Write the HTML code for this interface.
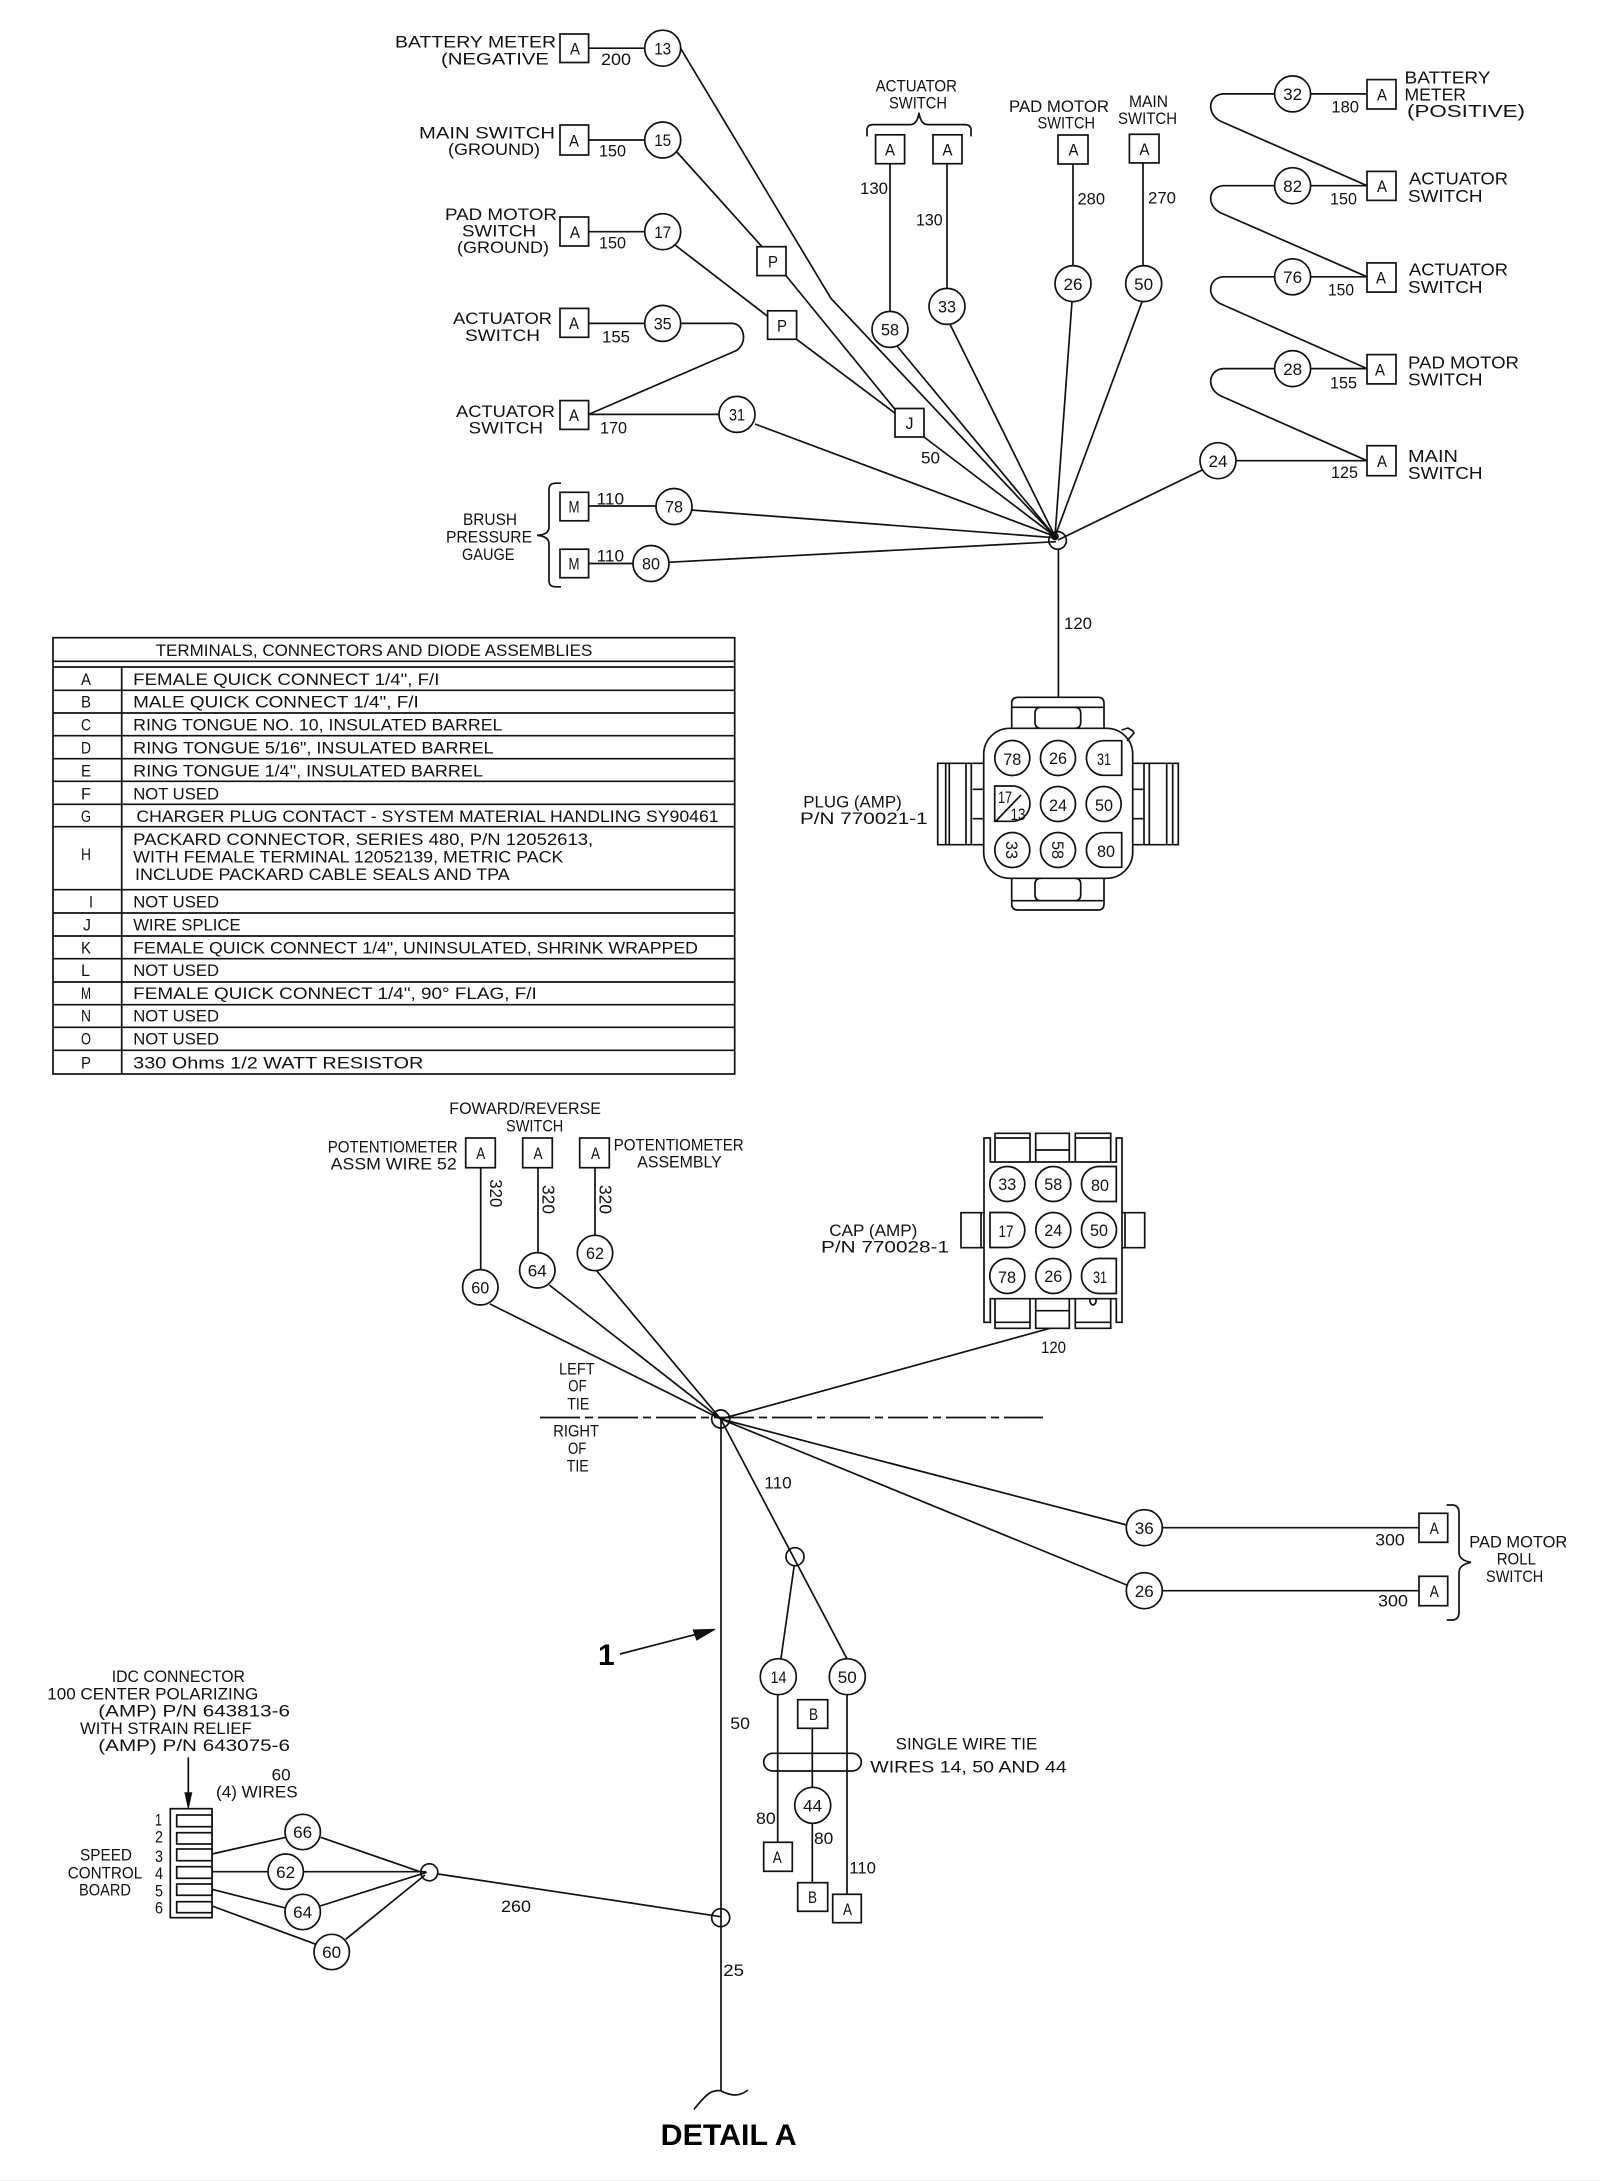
<!DOCTYPE html>
<html><head><meta charset="utf-8"><style>
html,body{margin:0;padding:0;background:#fff}
svg{display:block}
text{font-family:"Liberation Sans",sans-serif;font-size:16.5px;fill:#111}
.l,.w,.c,.cap{fill:none;stroke:#111;stroke-width:1.7}
.c{fill:#fff}
.r{font-size:17.4px}
.t{font-size:17px}
.m{font-size:16.5px}
.g{font-size:16.5px}
.v{font-size:17.5px}
.b{font-weight:bold;font-size:30px;fill:#000}
.n{font-size:17.5px;text-anchor:middle}
.n2{font-size:17px;text-anchor:middle}
</style></head><body>
<svg width="1600" height="2181" viewBox="0 0 1600 2181" xmlns="http://www.w3.org/2000/svg">
<rect width="1600" height="2181" fill="#fff"/>
<rect y="2180" width="1600" height="1" fill="#eee"/>

<!-- TOP WIRES -->
<g class="l">
<path d="M588.6 48.2H645M680.5 48.2L831 298.5L1055 536.4"/>
<path d="M588.6 140H645M676 151L762 246.7M786 275.6L895 409.3M924 437L1055 536.4"/>
<path d="M588.6 231.7H645M675 245L767.6 316.3M796.6 339.3L895 413.2"/>
<path d="M588.6 323.4H645M680.5 323.4H733C746 325 748 347 733 352L588.6 414.4"/>
<path d="M588.6 414.4H719M755 424L1055 536.4"/>
<path d="M589 506H656M691 510L1056 537.8"/>
<path d="M589 563.5H633M668 562.3L1056 541.7"/>
<path d="M890 163.7V311.4M897 346L1055 536.4"/>
<path d="M947 163.7V288.4M950 324.2L1055 536.4"/>
<path d="M1073 164V265.6M1072 301.4L1055 536.4"/>
<path d="M1143 163V265.6M1142.4 300.7L1055 536.4"/>
<path d="M1203 469.6L1058 540"/>
<path d="M1310 93.9H1367M1275 93.9H1223C1208 95 1206 114 1221 121.4L1367 185.7"/>
<path d="M1310 185.7H1367M1275 185.7H1223C1208 187 1206 206 1221 213L1367 276.8"/>
<path d="M1310 276.8H1367M1275 276.8H1223C1208 278 1206 297 1221 304L1367 368.6"/>
<path d="M1310 368.6H1367M1275 368.6H1223C1208 370 1206 389 1221 396L1367 460.7"/>
<path d="M1235.5 460.7H1367"/>
<path d="M1058.4 549V697.3"/>
<circle cx="1057.6" cy="540.4" r="8.8"/>
<circle cx="1055" cy="536.4" r="3" fill="#111"/>
<!-- braces -->
<path d="M561 483.2H556C551 483.2 549 485 549 490V527C549 532 545 535 537 535.4C545 536 549 539 549 544V580C549 585 551 586.8 556 586.8H561"/>
<path d="M867 136.4V130C867 126.5 869 124.6 873 124.6H910C915 124.6 918 120 919 112.7C920 120 923 124.6 928 124.6H965C969 124.6 971 126.5 971 130V136.4"/>
</g>

<!-- TOP BOXES -->
<g class="c">
<rect x="560" y="34" width="28.6" height="28.5"/>
<rect x="560" y="125" width="28.6" height="30"/>
<rect x="560" y="217" width="28.6" height="29"/>
<rect x="560" y="308.4" width="28.6" height="28.9"/>
<rect x="560" y="400.6" width="28.6" height="28.8"/>
<rect x="560" y="492.3" width="28.6" height="28.5"/>
<rect x="560" y="549.2" width="28.6" height="28.5"/>
<rect x="757" y="246.7" width="29" height="28.9"/>
<rect x="767.6" y="310.8" width="29" height="28.5"/>
<rect x="895" y="408.5" width="29" height="28.5"/>
<rect x="875.6" y="134.8" width="29" height="28.9"/>
<rect x="933" y="134.8" width="29" height="28.9"/>
<rect x="1058" y="135" width="30" height="29"/>
<rect x="1129.4" y="134.3" width="29.6" height="28.6"/>
<rect x="1367" y="79.6" width="29" height="29.4"/>
<rect x="1367" y="171.4" width="29" height="29"/>
<rect x="1367" y="262.9" width="29" height="29.2"/>
<rect x="1367" y="354.6" width="29" height="29.3"/>
<rect x="1367" y="445.7" width="29" height="30"/>
<circle cx="662.7" cy="48.2" r="18"/>
<circle cx="662.7" cy="140" r="18"/>
<circle cx="662.7" cy="231.7" r="18"/>
<circle cx="662.7" cy="323.4" r="18"/>
<circle cx="737" cy="414.4" r="18"/>
<circle cx="674" cy="506.5" r="18"/>
<circle cx="651" cy="563.5" r="18"/>
<circle cx="890" cy="329.4" r="18"/>
<circle cx="947" cy="306.4" r="18"/>
<circle cx="1073" cy="283.6" r="18"/>
<circle cx="1143.7" cy="283.6" r="18"/>
<circle cx="1292.6" cy="93.9" r="18"/>
<circle cx="1292.6" cy="185.7" r="18"/>
<circle cx="1292.6" cy="276.8" r="18"/>
<circle cx="1292.6" cy="368.6" r="18"/>
<circle cx="1218" cy="460.7" r="18"/>
</g>

<!-- TOP TEXT -->
<g>
<g class="n">
<text x="662.7" y="54.5" textLength="17" lengthAdjust="spacingAndGlyphs">13</text>
<text x="662.7" y="146" textLength="17" lengthAdjust="spacingAndGlyphs">15</text>
<text x="662.7" y="238" textLength="17" lengthAdjust="spacingAndGlyphs">17</text>
<text x="662.7" y="329.5" textLength="18" lengthAdjust="spacingAndGlyphs">35</text>
<text x="737" y="420.5" textLength="16" lengthAdjust="spacingAndGlyphs">31</text>
<text x="674" y="512.5" textLength="18" lengthAdjust="spacingAndGlyphs">78</text>
<text x="651" y="569.5" textLength="18" lengthAdjust="spacingAndGlyphs">80</text>
<text x="890" y="335.5" textLength="18" lengthAdjust="spacingAndGlyphs">58</text>
<text x="947" y="312.5" textLength="18" lengthAdjust="spacingAndGlyphs">33</text>
<text x="1073" y="289.8" textLength="19" lengthAdjust="spacingAndGlyphs">26</text>
<text x="1143.7" y="289.8" textLength="19" lengthAdjust="spacingAndGlyphs">50</text>
<text x="1292.6" y="100" textLength="19" lengthAdjust="spacingAndGlyphs">32</text>
<text x="1292.6" y="192" textLength="19" lengthAdjust="spacingAndGlyphs">82</text>
<text x="1292.6" y="283" textLength="19" lengthAdjust="spacingAndGlyphs">76</text>
<text x="1292.6" y="375" textLength="19" lengthAdjust="spacingAndGlyphs">28</text>
<text x="1218" y="467" textLength="19" lengthAdjust="spacingAndGlyphs">24</text>
<text x="575" y="54.4" textLength="10" lengthAdjust="spacingAndGlyphs">A</text>
<text x="574" y="146.5" textLength="10" lengthAdjust="spacingAndGlyphs">A</text>
<text x="575" y="238" textLength="10" lengthAdjust="spacingAndGlyphs">A</text>
<text x="574" y="329" textLength="10" lengthAdjust="spacingAndGlyphs">A</text>
<text x="574" y="421" textLength="10" lengthAdjust="spacingAndGlyphs">A</text>
<text x="574" y="512.5" textLength="11" lengthAdjust="spacingAndGlyphs">M</text>
<text x="574" y="569.5" textLength="11" lengthAdjust="spacingAndGlyphs">M</text>
<text x="773" y="267.7" textLength="10" lengthAdjust="spacingAndGlyphs">P</text>
<text x="782" y="331.4" textLength="10" lengthAdjust="spacingAndGlyphs">P</text>
<text x="909.5" y="429" textLength="8" lengthAdjust="spacingAndGlyphs">J</text>
<text x="890" y="155.5" textLength="10" lengthAdjust="spacingAndGlyphs">A</text>
<text x="947.5" y="155.5" textLength="10" lengthAdjust="spacingAndGlyphs">A</text>
<text x="1073.5" y="155.5" textLength="10" lengthAdjust="spacingAndGlyphs">A</text>
<text x="1144.5" y="154.8" textLength="10" lengthAdjust="spacingAndGlyphs">A</text>
<text x="1382" y="100.5" textLength="10" lengthAdjust="spacingAndGlyphs">A</text>
<text x="1382" y="192" textLength="10" lengthAdjust="spacingAndGlyphs">A</text>
<text x="1381" y="283.7" textLength="10" lengthAdjust="spacingAndGlyphs">A</text>
<text x="1380" y="375.5" textLength="10" lengthAdjust="spacingAndGlyphs">A</text>
<text x="1382" y="467" textLength="10" lengthAdjust="spacingAndGlyphs">A</text>
</g>
<text x="395" y="47.4" textLength="161" lengthAdjust="spacingAndGlyphs">BATTERY  METER</text>
<text x="441" y="64.5" textLength="108" lengthAdjust="spacingAndGlyphs">(NEGATIVE</text>
<text x="601" y="64.8" textLength="30" lengthAdjust="spacingAndGlyphs">200</text>
<text x="419" y="138.4" textLength="136" lengthAdjust="spacingAndGlyphs">MAIN  SWITCH</text>
<text x="448" y="155" textLength="92" lengthAdjust="spacingAndGlyphs">(GROUND)</text>
<text x="599" y="156.6" textLength="27" lengthAdjust="spacingAndGlyphs">150</text>
<text x="445" y="219.8" textLength="112" lengthAdjust="spacingAndGlyphs">PAD  MOTOR</text>
<text x="462" y="236.5" textLength="74" lengthAdjust="spacingAndGlyphs">SWITCH</text>
<text x="457" y="253" textLength="92" lengthAdjust="spacingAndGlyphs">(GROUND)</text>
<text x="599" y="248.3" textLength="27" lengthAdjust="spacingAndGlyphs">150</text>
<text x="453" y="324.2" textLength="99" lengthAdjust="spacingAndGlyphs">ACTUATOR</text>
<text x="465" y="340.8" textLength="75" lengthAdjust="spacingAndGlyphs">SWITCH</text>
<text x="602" y="342.4" textLength="28" lengthAdjust="spacingAndGlyphs">155</text>
<text x="456" y="416.8" textLength="99" lengthAdjust="spacingAndGlyphs">ACTUATOR</text>
<text x="468.5" y="433.4" textLength="74.5" lengthAdjust="spacingAndGlyphs">SWITCH</text>
<text x="600" y="433.4" textLength="27" lengthAdjust="spacingAndGlyphs">170</text>
<text x="596.6" y="504.5" textLength="27.5" lengthAdjust="spacingAndGlyphs">110</text>
<text x="596.6" y="561.5" textLength="27.5" lengthAdjust="spacingAndGlyphs">110</text>
<text x="463" y="525" textLength="54" lengthAdjust="spacingAndGlyphs">BRUSH</text>
<text x="446" y="542.5" textLength="86" lengthAdjust="spacingAndGlyphs">PRESSURE</text>
<text x="462" y="560" textLength="52.5" lengthAdjust="spacingAndGlyphs">GAUGE</text>
<text x="921" y="463.4" textLength="19" lengthAdjust="spacingAndGlyphs">50</text>
<text x="875.6" y="91.7" textLength="81.4" lengthAdjust="spacingAndGlyphs" class="g">ACTUATOR</text>
<text x="889" y="108.7" textLength="58" lengthAdjust="spacingAndGlyphs" class="g">SWITCH</text>
<text x="860" y="193.8" textLength="28" lengthAdjust="spacingAndGlyphs">130</text>
<text x="916" y="225.4" textLength="26.6" lengthAdjust="spacingAndGlyphs">130</text>
<text x="1009" y="112" textLength="100" lengthAdjust="spacingAndGlyphs" class="g">PAD  MOTOR</text>
<text x="1037.5" y="128.6" textLength="57.5" lengthAdjust="spacingAndGlyphs" class="g">SWITCH</text>
<text x="1129" y="107" textLength="39" lengthAdjust="spacingAndGlyphs" class="g">MAIN</text>
<text x="1118" y="124" textLength="59" lengthAdjust="spacingAndGlyphs" class="g">SWITCH</text>
<text x="1077.5" y="204.3" textLength="27.5" lengthAdjust="spacingAndGlyphs">280</text>
<text x="1148" y="203.6" textLength="28" lengthAdjust="spacingAndGlyphs">270</text>
<text x="1331.4" y="112.5" textLength="27.6" lengthAdjust="spacingAndGlyphs">180</text>
<text x="1330" y="204.3" textLength="27" lengthAdjust="spacingAndGlyphs">150</text>
<text x="1328" y="295.7" textLength="26" lengthAdjust="spacingAndGlyphs">150</text>
<text x="1330" y="388.6" textLength="27" lengthAdjust="spacingAndGlyphs">155</text>
<text x="1331" y="478.2" textLength="27" lengthAdjust="spacingAndGlyphs">125</text>
<text class="r" x="1404.5" y="83.6" textLength="86" lengthAdjust="spacingAndGlyphs">BATTERY</text>
<text class="r" x="1404.5" y="100.7" textLength="61.5" lengthAdjust="spacingAndGlyphs">METER</text>
<text class="r" x="1407" y="117" textLength="118" lengthAdjust="spacingAndGlyphs">(POSITIVE)</text>
<text class="r" x="1409" y="184.6" textLength="99" lengthAdjust="spacingAndGlyphs">ACTUATOR</text>
<text class="r" x="1408" y="201.8" textLength="74.5" lengthAdjust="spacingAndGlyphs">SWITCH</text>
<text class="r" x="1409" y="275.7" textLength="99" lengthAdjust="spacingAndGlyphs">ACTUATOR</text>
<text class="r" x="1408" y="292.9" textLength="74.5" lengthAdjust="spacingAndGlyphs">SWITCH</text>
<text class="r" x="1408" y="368.6" textLength="111" lengthAdjust="spacingAndGlyphs">PAD  MOTOR</text>
<text class="r" x="1408" y="385.4" textLength="74.5" lengthAdjust="spacingAndGlyphs">SWITCH</text>
<text class="r" x="1408" y="462.1" textLength="50" lengthAdjust="spacingAndGlyphs">MAIN</text>
<text class="r" x="1408" y="478.9" textLength="74.5" lengthAdjust="spacingAndGlyphs">SWITCH</text>
<text class="m" x="1064" y="629" textLength="28" lengthAdjust="spacingAndGlyphs">120</text>
</g>

<!-- TABLE -->
<g class="l">
<rect x="53" y="637.7" width="681.7" height="436.3"/>
<path d="M53 661.3H734.7M53 667H734.7M53 690.3H734.7M53 713H734.7M53 735.7H734.7M53 758.7H734.7M53 781.3H734.7M53 804.3H734.7M53 826.7H734.7M53 889.7H734.7M53 913H734.7M53 936H734.7M53 958.7H734.7M53 982H734.7M53 1004.7H734.7M53 1027.3H734.7M53 1050.3H734.7M121.7 667V1074"/>
</g>
<g>
<text class="t" x="155.7" y="656" textLength="436.6" lengthAdjust="spacingAndGlyphs">TERMINALS, CONNECTORS AND DIODE ASSEMBLIES</text>
<text class="t" x="81" y="685" textLength="10" lengthAdjust="spacingAndGlyphs">A</text>
<text class="t" x="81" y="707.7" textLength="10" lengthAdjust="spacingAndGlyphs">B</text>
<text class="t" x="81" y="730.7" textLength="10" lengthAdjust="spacingAndGlyphs">C</text>
<text class="t" x="81" y="753.3" textLength="10" lengthAdjust="spacingAndGlyphs">D</text>
<text class="t" x="81" y="776.3" textLength="10" lengthAdjust="spacingAndGlyphs">E</text>
<text class="t" x="81" y="799.3" textLength="10" lengthAdjust="spacingAndGlyphs">F</text>
<text class="t" x="81" y="822" textLength="10" lengthAdjust="spacingAndGlyphs">G</text>
<text class="t" x="81" y="860" textLength="10" lengthAdjust="spacingAndGlyphs">H</text>
<text class="t" x="89" y="907.7" textLength="4" lengthAdjust="spacingAndGlyphs">I</text>
<text class="t" x="83" y="930.3" textLength="8" lengthAdjust="spacingAndGlyphs">J</text>
<text class="t" x="81" y="953.3" textLength="10" lengthAdjust="spacingAndGlyphs">K</text>
<text class="t" x="81" y="976" textLength="9" lengthAdjust="spacingAndGlyphs">L</text>
<text class="t" x="81" y="999" textLength="10" lengthAdjust="spacingAndGlyphs">M</text>
<text class="t" x="81" y="1021.7" textLength="10" lengthAdjust="spacingAndGlyphs">N</text>
<text class="t" x="81" y="1044.7" textLength="10" lengthAdjust="spacingAndGlyphs">O</text>
<text class="t" x="81" y="1068.3" textLength="10" lengthAdjust="spacingAndGlyphs">P</text>
<text class="t" x="133.2" y="685" textLength="306.2" lengthAdjust="spacingAndGlyphs">FEMALE QUICK CONNECT 1/4", F/I</text>
<text class="t" x="133.2" y="707.7" textLength="285.6" lengthAdjust="spacingAndGlyphs">MALE QUICK CONNECT 1/4", F/I</text>
<text class="t" x="133.2" y="730.7" textLength="369.2" lengthAdjust="spacingAndGlyphs">RING TONGUE NO. 10, INSULATED BARREL</text>
<text class="t" x="133.2" y="753.3" textLength="360.4" lengthAdjust="spacingAndGlyphs">RING TONGUE 5/16", INSULATED BARREL</text>
<text class="t" x="133.2" y="776.3" textLength="349.8" lengthAdjust="spacingAndGlyphs">RING TONGUE 1/4", INSULATED BARREL</text>
<text class="t" x="133.2" y="799.3" textLength="85.8" lengthAdjust="spacingAndGlyphs">NOT USED</text>
<text class="t" x="136.4" y="822" textLength="582.2" lengthAdjust="spacingAndGlyphs">CHARGER PLUG CONTACT - SYSTEM MATERIAL HANDLING SY90461</text>
<text class="t" x="133.2" y="845" textLength="460" lengthAdjust="spacingAndGlyphs">PACKARD CONNECTOR, SERIES 480, P/N 12052613,</text>
<text class="t" x="133.2" y="862.3" textLength="430.2" lengthAdjust="spacingAndGlyphs">WITH FEMALE TERMINAL 12052139, METRIC PACK</text>
<text class="t" x="135" y="880" textLength="374.7" lengthAdjust="spacingAndGlyphs">INCLUDE PACKARD CABLE SEALS AND TPA</text>
<text class="t" x="133.2" y="907.7" textLength="85.8" lengthAdjust="spacingAndGlyphs">NOT USED</text>
<text class="t" x="133.2" y="930.3" textLength="107.4" lengthAdjust="spacingAndGlyphs">WIRE SPLICE</text>
<text class="t" x="133.2" y="953.3" textLength="564.8" lengthAdjust="spacingAndGlyphs">FEMALE QUICK CONNECT 1/4", UNINSULATED, SHRINK WRAPPED</text>
<text class="t" x="133.2" y="976" textLength="85.8" lengthAdjust="spacingAndGlyphs">NOT USED</text>
<text class="t" x="133.2" y="999" textLength="403.6" lengthAdjust="spacingAndGlyphs">FEMALE QUICK CONNECT 1/4", 90° FLAG, F/I</text>
<text class="t" x="133.2" y="1021.7" textLength="85.8" lengthAdjust="spacingAndGlyphs">NOT USED</text>
<text class="t" x="133.2" y="1044.7" textLength="85.8" lengthAdjust="spacingAndGlyphs">NOT USED</text>
<text class="t" x="133.2" y="1068.3" textLength="290.2" lengthAdjust="spacingAndGlyphs">330 Ohms  1/2 WATT RESISTOR</text>
</g>

<!-- PLUG -->
<g class="l">
<path d="M1011.7 728V703.3Q1011.7 697.3 1018 697.3H1098Q1104 697.3 1104 703.3V728M1011.7 707.3H1104"/>
<path d="M1041 728.3Q1035 728.3 1035 722V713.3Q1035 707.3 1041 707.3H1074.7Q1080.7 707.3 1080.7 713.3V722Q1080.7 728.3 1074.7 728.3"/>
<path d="M1011.7 878.3V904Q1011.7 910 1018 910H1098Q1104 910 1104 904V878.3M1011.7 900.7H1104"/>
<path d="M1041 878.3Q1035 878.3 1035 884V894.7Q1035 900.7 1041 900.7H1074.7Q1080.7 900.7 1080.7 894.7V884Q1080.7 878.3 1074.7 878.3"/>
<rect x="983.7" y="728.3" width="149" height="150" rx="26" fill="#fff"/>
<path d="M983.7 763.3H937.7V844.7H983.7M945.7 763.3V844.7M949.3 763.3V844.7M966 763.3V844.7M971.3 763.3V844.7M972.7 789.3H983.7M972.7 818.7H983.7"/>
<path d="M1132.7 763.3H1178.3V844.7H1132.7M1172.7 763.3V844.7M1166.7 763.3V844.7M1149.3 763.3V844.7M1144 763.3V844.7M1132.7 789.3H1144M1132.7 818.7H1144"/>
<path d="M1121.7 730L1128 728L1133 731L1134 733L1127 741"/>
<circle cx="1012.3" cy="758" r="17.5"/><circle cx="1058" cy="758" r="17.5"/>
<path d="M1121.7 740.7H1103.7A17.3 17.3 0 0 0 1103.7 775.3H1121.7Z"/>
<path d="M994.7 786H1012.3A17.6 17.6 0 0 1 1012.3 821.3H994.7Z"/>
<path d="M996 821L1021 795"/>
<circle cx="1058" cy="804" r="17.5"/><circle cx="1103.7" cy="804" r="17.5"/>
<circle cx="1012.3" cy="850" r="17.5"/><circle cx="1058" cy="850" r="17.5"/>
<path d="M1121.7 832.7H1103.7A17.3 17.3 0 0 0 1103.7 867.3H1121.7Z"/>
</g>
<g class="n2">
<text x="1012.3" y="765" textLength="18" lengthAdjust="spacingAndGlyphs">78</text>
<text x="1058" y="764" textLength="18" lengthAdjust="spacingAndGlyphs">26</text>
<text x="1104" y="765" textLength="14" lengthAdjust="spacingAndGlyphs">31</text>
<text x="1005" y="803" textLength="14" lengthAdjust="spacingAndGlyphs">17</text>
<text x="1018" y="820" textLength="15" lengthAdjust="spacingAndGlyphs">13</text>
<text x="1058" y="811" textLength="18" lengthAdjust="spacingAndGlyphs">24</text>
<text x="1104" y="811" textLength="18" lengthAdjust="spacingAndGlyphs">50</text>
<text transform="translate(1006 850) rotate(90)" textLength="18" lengthAdjust="spacingAndGlyphs">33</text>
<text transform="translate(1052 850) rotate(90)" textLength="18" lengthAdjust="spacingAndGlyphs">58</text>
<text x="1106" y="857" textLength="18" lengthAdjust="spacingAndGlyphs">80</text>
</g>
<text class="g" x="803.3" y="807.3" textLength="98.4" lengthAdjust="spacingAndGlyphs">PLUG  (AMP)</text>
<text class="g" x="800" y="824" textLength="127.7" lengthAdjust="spacingAndGlyphs">P/N  770021-1</text>

<!-- CAP -->
<g class="l">
<path d="M990.3 1162V1138H984V1322.3H990.3V1298.7H1116.3V1322.3H1122V1138H1116.3V1162Z"/>
<path d="M995 1162V1133.3H1030V1162M995 1138H1030M1035.7 1162V1133.3H1069.3V1162M1035.7 1150H1069.3M1075.3 1162V1133.3H1110.7V1162M1075.3 1138H1110.7"/>
<path d="M995 1298.7V1328.3H1030V1298.7M995 1322.3H1030M1035.7 1298.7V1328.3H1069.3V1298.7M1035.7 1310.7H1069.3M1075.3 1298.7V1328.3H1110.7V1298.7M1075.3 1322.3H1110.7"/>
<path d="M984 1212.7H961V1247.7H984M981 1212.7V1247.7M1122 1212.7H1144.7V1247.7H1122M1125 1212.7V1247.7"/>
<path d="M1090 1298.7V1302Q1093 1308 1096 1302V1298.7"/>
<circle cx="1007.3" cy="1184" r="17.5"/><circle cx="1053.3" cy="1184" r="17.5"/>
<path d="M1116.3 1166.5H1099A17.5 17.5 0 0 0 1099 1201.5H1116.3Z"/>
<path d="M990 1212.5H1007.3A17.5 17.5 0 0 1 1007.3 1247.5H990Z"/>
<circle cx="1053.3" cy="1230" r="17.5"/><circle cx="1099" cy="1230" r="17.5"/>
<circle cx="1007.3" cy="1276" r="17.5"/><circle cx="1053.3" cy="1276" r="17.5"/>
<path d="M1116.3 1258.5H1099A17.5 17.5 0 0 0 1099 1293.5H1116.3Z"/>
</g>
<g class="n2">
<text x="1007.3" y="1190" textLength="18" lengthAdjust="spacingAndGlyphs">33</text>
<text x="1053.3" y="1190" textLength="18" lengthAdjust="spacingAndGlyphs">58</text>
<text x="1100" y="1191" textLength="18" lengthAdjust="spacingAndGlyphs">80</text>
<text x="1006" y="1237" textLength="15" lengthAdjust="spacingAndGlyphs">17</text>
<text x="1053.3" y="1236" textLength="18" lengthAdjust="spacingAndGlyphs">24</text>
<text x="1099" y="1236" textLength="18" lengthAdjust="spacingAndGlyphs">50</text>
<text x="1007" y="1283" textLength="18" lengthAdjust="spacingAndGlyphs">78</text>
<text x="1053.3" y="1282" textLength="18" lengthAdjust="spacingAndGlyphs">26</text>
<text x="1100" y="1283" textLength="14" lengthAdjust="spacingAndGlyphs">31</text>
</g>
<text class="g" x="829.3" y="1236" textLength="88" lengthAdjust="spacingAndGlyphs">CAP  (AMP)</text>
<text class="g" x="821" y="1252.7" textLength="128" lengthAdjust="spacingAndGlyphs">P/N  770028-1</text>
<text class="m" x="1041" y="1353" textLength="25" lengthAdjust="spacingAndGlyphs">120</text>

<!-- LOWER WIRING -->
<g class="l">
<path d="M480.7 1167.7V1270M538 1167.7V1253M595 1167.7V1235"/>
<path d="M490 1304L720.7 1419M549.3 1285L720.7 1419M596 1270L720.7 1419"/>
<path d="M1050 1328.3L720.7 1419"/>
<path d="M540 1417.5H1043" stroke-dasharray="40 5 8 5"/>
<circle cx="720.7" cy="1419" r="9"/>
<path d="M721 1419V2090.7"/>
<path d="M720.7 1419L846.7 1658.3M794.3 1565L781 1658.3"/>
<circle cx="795" cy="1556.7" r="9"/>
<path d="M720.7 1419L1126.7 1525M720.7 1419L1126.7 1585"/>
<path d="M1162.3 1527.7H1419M1162.3 1590.7H1419"/>
<path d="M777.7 1695V1842.3M847 1695V1894.3M812.3 1728.3V1787M812.3 1823.5V1882.7"/>
<rect x="763.7" y="1753.3" width="97.6" height="17.7" rx="9"/>
<path d="M694 2109.3C708 2092 712 2090 720.7 2090.7C733 2097 740 2096 748 2090"/>
<path d="M620 1654L700 1633.3"/>
<path d="M188.3 1757.3V1795"/>
<path d="M1446.7 1505H1452C1457 1505 1459 1508 1459 1513V1552C1459 1558 1463 1561 1471 1562.3C1463 1564 1459 1567 1459 1573V1612C1459 1617 1457 1620 1452 1620H1446.7"/>
<path d="M212 1854L286 1837.3M320.7 1837.3L421.7 1872.3M212 1871.7H268M303.3 1871.7H426M212 1889.3L286.7 1908.3M320 1906L426.7 1872.3M212 1906L316 1944.3M345.7 1939.3L425 1875"/>
<path d="M600 1898.3L720.7 1916.7M438 1874L600 1898.3"/>
<circle cx="429.3" cy="1872.3" r="8.5"/>
<circle cx="720.7" cy="1917.7" r="9"/>
</g>
<path d="M715 1629.3L693.3 1630L696.7 1640Z" fill="#111" stroke="#111" stroke-width="1"/>
<path d="M188.3 1808.3L185 1792.7H191.7Z" fill="#111" stroke="#111" stroke-width="1"/>

<g class="c">
<rect x="465.7" y="1138" width="29.6" height="29.7"/>
<rect x="522.7" y="1138" width="29.6" height="29.7"/>
<rect x="579.7" y="1138" width="29.6" height="29.7"/>
<circle cx="480.3" cy="1287.3" r="17.7"/>
<circle cx="537.3" cy="1270.3" r="17.7"/>
<circle cx="595" cy="1253" r="17.7"/>
<circle cx="778.3" cy="1676.7" r="18"/>
<circle cx="847.3" cy="1676.7" r="18"/>
<circle cx="812.7" cy="1805.3" r="18"/>
<rect x="763.7" y="1842.3" width="28.6" height="29"/>
<rect x="832.7" y="1894.3" width="28.6" height="28.4"/>
<rect x="797.7" y="1699.7" width="30" height="28.6"/>
<rect x="797.7" y="1882.7" width="30" height="28.6"/>
<circle cx="1144.3" cy="1527.7" r="18"/>
<circle cx="1144.3" cy="1590.7" r="18"/>
<rect x="1419" y="1513.3" width="28.7" height="29"/>
<rect x="1419" y="1576.3" width="28.7" height="29.4"/>
<rect x="170.3" y="1808.7" width="41.7" height="109"/>
<rect x="176.7" y="1815" width="35.3" height="11.7"/>
<rect x="176.7" y="1832.7" width="35.3" height="11.3"/>
<rect x="176.7" y="1849" width="35.3" height="11.7"/>
<rect x="176.7" y="1866.7" width="35.3" height="11.6"/>
<rect x="176.7" y="1884" width="35.3" height="11.3"/>
<rect x="176.7" y="1901.7" width="35.3" height="11"/>
<circle cx="302.7" cy="1832" r="17.7"/>
<circle cx="285.7" cy="1871.7" r="17.7"/>
<circle cx="302.7" cy="1912" r="17.7"/>
<circle cx="331.7" cy="1952" r="17.7"/>
</g>

<!-- LOWER TEXT -->
<g class="n2">
<text x="480.3" y="1293.5" textLength="18" lengthAdjust="spacingAndGlyphs">60</text>
<text x="537.3" y="1276.5" textLength="19" lengthAdjust="spacingAndGlyphs">64</text>
<text x="595" y="1259" textLength="18" lengthAdjust="spacingAndGlyphs">62</text>
<text x="778.5" y="1683" textLength="16" lengthAdjust="spacingAndGlyphs">14</text>
<text x="847.3" y="1683" textLength="19" lengthAdjust="spacingAndGlyphs">50</text>
<text x="812.7" y="1811.5" textLength="19" lengthAdjust="spacingAndGlyphs">44</text>
<text x="1144.3" y="1534" textLength="19" lengthAdjust="spacingAndGlyphs">36</text>
<text x="1144.3" y="1597" textLength="19" lengthAdjust="spacingAndGlyphs">26</text>
<text x="302.7" y="1838" textLength="19" lengthAdjust="spacingAndGlyphs">66</text>
<text x="285.7" y="1878" textLength="19" lengthAdjust="spacingAndGlyphs">62</text>
<text x="302.7" y="1918" textLength="19" lengthAdjust="spacingAndGlyphs">64</text>
<text x="331.7" y="1958" textLength="19" lengthAdjust="spacingAndGlyphs">60</text>
<text x="480.7" y="1159" textLength="9" lengthAdjust="spacingAndGlyphs">A</text>
<text x="538" y="1159" textLength="9" lengthAdjust="spacingAndGlyphs">A</text>
<text x="595.5" y="1159" textLength="9" lengthAdjust="spacingAndGlyphs">A</text>
<text x="777.3" y="1863" textLength="9" lengthAdjust="spacingAndGlyphs">A</text>
<text x="847.5" y="1915" textLength="9" lengthAdjust="spacingAndGlyphs">A</text>
<text x="813.5" y="1720" textLength="9" lengthAdjust="spacingAndGlyphs">B</text>
<text x="812.5" y="1903" textLength="9" lengthAdjust="spacingAndGlyphs">B</text>
<text x="1434.3" y="1534" textLength="9" lengthAdjust="spacingAndGlyphs">A</text>
<text x="1434.3" y="1597" textLength="9" lengthAdjust="spacingAndGlyphs">A</text>
</g>
<g class="m">
<text class="m" x="449.3" y="1114" textLength="151.7" lengthAdjust="spacingAndGlyphs">FOWARD/REVERSE</text>
<text class="m" x="506" y="1131.3" textLength="57.3" lengthAdjust="spacingAndGlyphs">SWITCH</text>
<text class="m" x="327.7" y="1152.7" textLength="130" lengthAdjust="spacingAndGlyphs">POTENTIOMETER</text>
<text class="m" x="330.7" y="1169.3" textLength="126" lengthAdjust="spacingAndGlyphs">ASSM  WIRE  52</text>
<text class="m" x="613.7" y="1150.7" textLength="130" lengthAdjust="spacingAndGlyphs">POTENTIOMETER</text>
<text class="m" x="637.3" y="1167.7" textLength="84.4" lengthAdjust="spacingAndGlyphs">ASSEMBLY</text>
<text class="v" transform="translate(490 1179.3) rotate(90)" textLength="28" lengthAdjust="spacingAndGlyphs">320</text>
<text class="v" transform="translate(542.3 1185) rotate(90)" textLength="29" lengthAdjust="spacingAndGlyphs">320</text>
<text class="v" transform="translate(599.7 1185) rotate(90)" textLength="29" lengthAdjust="spacingAndGlyphs">320</text>
<text class="m" x="559" y="1374.3" textLength="35.7" lengthAdjust="spacingAndGlyphs">LEFT</text>
<text class="m" x="568.3" y="1391.7" textLength="18.4" lengthAdjust="spacingAndGlyphs">OF</text>
<text class="m" x="567.3" y="1409.3" textLength="22" lengthAdjust="spacingAndGlyphs">TIE</text>
<text class="m" x="553.3" y="1436.7" textLength="45.7" lengthAdjust="spacingAndGlyphs">RIGHT</text>
<text class="m" x="568" y="1454" textLength="18.4" lengthAdjust="spacingAndGlyphs">OF</text>
<text class="m" x="566.7" y="1471.7" textLength="22" lengthAdjust="spacingAndGlyphs">TIE</text>
<text class="m" x="764.3" y="1488.3" textLength="27.4" lengthAdjust="spacingAndGlyphs">110</text>
<text class="m" x="1375.3" y="1545.3" textLength="29.4" lengthAdjust="spacingAndGlyphs">300</text>
<text class="m" x="1378" y="1606.7" textLength="30" lengthAdjust="spacingAndGlyphs">300</text>
<text class="m" x="1469.3" y="1547.3" textLength="98" lengthAdjust="spacingAndGlyphs">PAD  MOTOR</text>
<text class="m" x="1496.7" y="1564.3" textLength="39.3" lengthAdjust="spacingAndGlyphs">ROLL</text>
<text class="m" x="1486" y="1582" textLength="57.3" lengthAdjust="spacingAndGlyphs">SWITCH</text>
<text class="m" x="895.7" y="1749.3" textLength="141.6" lengthAdjust="spacingAndGlyphs">SINGLE  WIRE  TIE</text>
<text class="m" x="870.3" y="1772.7" textLength="196.4" lengthAdjust="spacingAndGlyphs">WIRES  14,  50  AND  44</text>
<text class="m" x="730.3" y="1729" textLength="19.7" lengthAdjust="spacingAndGlyphs">50</text>
<text class="m" x="756" y="1824" textLength="19.7" lengthAdjust="spacingAndGlyphs">80</text>
<text class="m" x="814" y="1844" textLength="19.3" lengthAdjust="spacingAndGlyphs">80</text>
<text class="m" x="849.3" y="1873.3" textLength="26.7" lengthAdjust="spacingAndGlyphs">110</text>
<text class="m" x="723.3" y="1976" textLength="20.7" lengthAdjust="spacingAndGlyphs">25</text>
<text class="m" x="501" y="1912" textLength="30" lengthAdjust="spacingAndGlyphs">260</text>
<text class="m" x="111.7" y="1682" textLength="133.3" lengthAdjust="spacingAndGlyphs">IDC  CONNECTOR</text>
<text class="m" x="47.3" y="1699.3" textLength="211" lengthAdjust="spacingAndGlyphs">100  CENTER  POLARIZING</text>
<text class="m" x="98.3" y="1716.7" textLength="191.7" lengthAdjust="spacingAndGlyphs">(AMP)  P/N  643813-6</text>
<text class="m" x="80" y="1734" textLength="171.7" lengthAdjust="spacingAndGlyphs">WITH  STRAIN  RELIEF</text>
<text class="m" x="98.3" y="1751" textLength="191.7" lengthAdjust="spacingAndGlyphs">(AMP)  P/N  643075-6</text>
<text class="m" x="271.7" y="1780.7" textLength="19" lengthAdjust="spacingAndGlyphs">60</text>
<text class="m" x="216" y="1797.7" textLength="81.7" lengthAdjust="spacingAndGlyphs">(4)  WIRES</text>
<text class="m" x="155" y="1825.7" textLength="7" lengthAdjust="spacingAndGlyphs">1</text>
<text class="m" x="155" y="1842.7" textLength="8" lengthAdjust="spacingAndGlyphs">2</text>
<text class="m" x="155" y="1862" textLength="8" lengthAdjust="spacingAndGlyphs">3</text>
<text class="m" x="155" y="1879" textLength="8" lengthAdjust="spacingAndGlyphs">4</text>
<text class="m" x="155" y="1896.7" textLength="8" lengthAdjust="spacingAndGlyphs">5</text>
<text class="m" x="155" y="1913.3" textLength="8" lengthAdjust="spacingAndGlyphs">6</text>
<text class="m" x="80" y="1860.7" textLength="52" lengthAdjust="spacingAndGlyphs">SPEED</text>
<text class="m" x="67.7" y="1878.3" textLength="74.6" lengthAdjust="spacingAndGlyphs">CONTROL</text>
<text class="m" x="79" y="1895.7" textLength="52" lengthAdjust="spacingAndGlyphs">BOARD</text>
</g>
<text class="b" x="598" y="1665">1</text>
<text class="b" x="660.7" y="2145" textLength="136" lengthAdjust="spacingAndGlyphs">DETAIL A</text>
</svg>
</body></html>
